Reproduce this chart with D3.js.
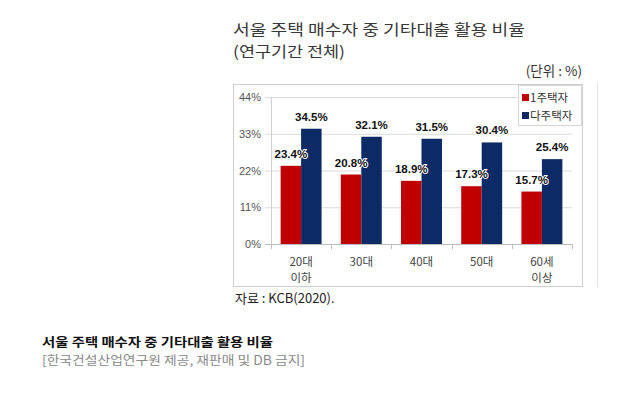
<!DOCTYPE html>
<html>
<head>
<meta charset="utf-8">
<script src="https://cdn.jsdelivr.net/npm/d3@7"></script>
<style>
  body { margin: 0; background: #fff; }
  svg { display: block; }
  .kr { font-family: "Noto Sans CJK KR", "Noto Sans", sans-serif; }
  .num { font-family: "Liberation Sans", Arial, sans-serif; }
</style>
</head>
<body>
<script>
// chart data
var categories = ["20대\n이하", "30대", "40대", "50대", "60세\n이상"];
var seriesNames = ["1주택자", "다주택자"];
var oneHouse = [23.4, 20.8, 18.9, 17.3, 15.7];
var multiHouse = [34.5, 32.1, 31.5, 30.4, 25.4];
var yTicks = [0, 11, 22, 33, 44];

window.onload = function() {

  var width = 628;
  var height = 394;
  var colors = ["#c00000", "#0b2a66"];

  // plot area inside the picture
  var plotLeft = 271;
  var plotRight = 572;
  var plotTop = 97;
  var plotBottom = 244;

  var svg = d3.select("body")
              .append("svg")
              .attr("width", width)
              .attr("height", height);

  svg.append("rect")
     .attr("width", width)
     .attr("height", height)
     .attr("fill", "#fff");

  // title of the picture
  svg.append("text")
     .attr("class", "kr")
     .attr("x", 233)
     .attr("y", 35)
     .attr("textLength", 292)
     .attr("lengthAdjust", "spacingAndGlyphs")
     .style("font-size", "15px")
     .attr("fill", "#383838")
     .text("서울 주택 매수자 중 기타대출 활용 비율");

  svg.append("text")
     .attr("class", "kr")
     .attr("x", 233)
     .attr("y", 57)
     .attr("textLength", 112)
     .attr("lengthAdjust", "spacingAndGlyphs")
     .style("font-size", "15px")
     .attr("fill", "#383838")
     .text("(연구기간 전체)");

  svg.append("text")
     .attr("class", "kr")
     .attr("x", 582)
     .attr("y", 76)
     .attr("text-anchor", "end")
     .style("font-size", "13.5px")
     .attr("fill", "#333")
     .text("(단위 : %)");

  // border of the chart and the edge of the next picture
  svg.append("rect")
     .attr("x", 233.5)
     .attr("y", 84.5)
     .attr("width", 349)
     .attr("height", 202)
     .attr("fill", "none")
     .attr("stroke", "#cfcfcf");

  svg.append("line")
     .attr("x1", 597.5).attr("x2", 597.5)
     .attr("y1", 83).attr("y2", 287)
     .attr("stroke", "#e4e4e4");

  // scales
  var x0 = d3.scaleBand()
             .domain(categories)
             .range([plotLeft, plotRight])
             .paddingInner(0.32)
             .paddingOuter(0.16);

  var x1 = d3.scaleBand()
             .domain(seriesNames)
             .range([0, x0.bandwidth()]);

  var y = d3.scaleLinear()
            .domain([0, 44])
            .range([plotBottom, plotTop]);

  // gridlines and y labels
  var yAxis = d3.axisLeft(y)
                .tickValues(yTicks)
                .tickSize(plotRight - plotLeft + 6)
                .tickPadding(4)
                .tickFormat(function(d) { return d + "%"; });

  var gy = svg.append("g")
              .attr("transform", "translate(" + plotRight + ",0)")
              .call(yAxis);

  gy.select(".domain").remove();
  gy.selectAll(".tick line")
    .attr("stroke", function(d) { return d == 0 ? "#bdbdbd" : "#dadada"; });
  gy.selectAll(".tick text")
    .attr("class", "num")
    .style("font-size", "11px")
    .attr("fill", "#555");

  svg.append("line")
     .attr("x1", plotLeft + 0.5).attr("x2", plotLeft + 0.5)
     .attr("y1", plotTop).attr("y2", plotBottom)
     .attr("stroke", "#d0d0d0");

  // small ticks between the categories
  var step = x0.step();
  var edges = categories.map(function(c) { return x0(c) - x0.paddingInner() * step / 2; });
  edges.push(plotRight);
  svg.selectAll("line.sep")
     .data(edges)
     .enter()
     .append("line")
     .attr("class", "sep")
     .attr("x1", function(d) { return Math.round(d) + 0.5; })
     .attr("x2", function(d) { return Math.round(d) + 0.5; })
     .attr("y1", plotBottom)
     .attr("y2", plotBottom + 5)
     .attr("stroke", "#bdbdbd");

  // bars
  var groups = svg.selectAll("g.group")
                  .data(categories)
                  .enter()
                  .append("g")
                  .attr("class", "group")
                  .attr("transform", function(d) { return "translate(" + x0(d) + ",0)"; });

  var rows = function(d, i) {
    return [
      { name: seriesNames[0], value: oneHouse[i], color: colors[0] },
      { name: seriesNames[1], value: multiHouse[i], color: colors[1] }
    ];
  };

  groups.selectAll("rect")
        .data(rows)
        .enter()
        .append("rect")
        .attr("x", function(d) { return x1(d.name); })
        .attr("y", function(d) { return y(d.value); })
        .attr("width", x1.bandwidth())
        .attr("height", function(d) { return plotBottom - y(d.value); })
        .attr("fill", function(d) { return d.color; });

  // value labels above the bars
  groups.selectAll("text.value")
        .data(rows)
        .enter()
        .append("text")
        .attr("class", "value num")
        .attr("x", function(d) { return x1(d.name) + x1.bandwidth() / 2; })
        .attr("y", function(d) { return y(d.value) - 8; })
        .attr("text-anchor", "middle")
        .style("font-size", "11.5px")
        .style("font-weight", "bold")
        .style("paint-order", "stroke")
        .attr("stroke", "#fff")
        .attr("stroke-width", 2)
        .attr("fill", "#111")
        .text(function(d) { return d3.format(".1f")(d.value) + "%"; });

  // category labels, split on two lines
  groups.append("text")
        .attr("class", "kr")
        .attr("text-anchor", "middle")
        .attr("x", x0.bandwidth() / 2)
        .attr("y", 266)
        .style("font-size", "11.5px")
        .attr("fill", "#444")
        .selectAll("tspan")
        .data(function(d) { return d.split("\n"); })
        .enter()
        .append("tspan")
        .attr("x", x0.bandwidth() / 2)
        .attr("dy", function(d, i) { return i == 0 ? 0 : 16; })
        .text(function(d) { return d; });

  // legend
  svg.append("rect")
     .attr("x", 518.5)
     .attr("y", 85.5)
     .attr("width", 63)
     .attr("height", 40)
     .attr("fill", "#fff")
     .attr("stroke", "#d6d6d6");

  var legend = svg.selectAll("g.legend")
                  .data(seriesNames)
                  .enter()
                  .append("g")
                  .attr("class", "legend")
                  .attr("transform", function(d, i) { return "translate(522," + (97 + i * 18) + ")"; });

  legend.append("rect")
        .attr("x", 0)
        .attr("y", -3)
        .attr("width", 7)
        .attr("height", 7)
        .attr("fill", function(d, i) { return colors[i]; });

  legend.append("text")
        .attr("class", "kr")
        .attr("x", 8)
        .attr("y", 4.5)
        .style("font-size", "11.5px")
        .attr("fill", "#333")
        .text(function(d) { return d; });

  // source line
  svg.append("text")
     .attr("class", "kr")
     .attr("x", 235)
     .attr("y", 303)
     .style("font-size", "13px")
     .attr("fill", "#222")
     .text("자료 : KCB(2020).");

  // caption under the picture
  svg.append("text")
     .attr("class", "kr")
     .attr("x", 42)
     .attr("y", 347)
     .attr("textLength", 231)
     .attr("lengthAdjust", "spacingAndGlyphs")
     .style("font-size", "12.5px")
     .style("font-weight", "bold")
     .attr("fill", "#111")
     .text("서울 주택 매수자 중 기타대출 활용 비율");

  svg.append("text")
     .attr("class", "kr")
     .attr("x", 42)
     .attr("y", 365)
     .attr("textLength", 263)
     .attr("lengthAdjust", "spacingAndGlyphs")
     .style("font-size", "12.5px")
     .attr("fill", "#8a8a8a")
     .text("[한국건설산업연구원 제공, 재판매 및 DB 금지]");
};
</script>
</body>
</html>
